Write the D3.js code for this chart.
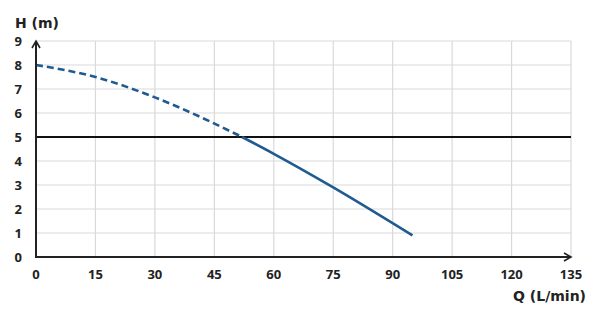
<!DOCTYPE html>
<html><head><meta charset="utf-8">
<script src="https://cdn.jsdelivr.net/npm/d3@7"></script>
<style>
body{margin:0;background:#fff;}
text{font-family:"Open Sans",sans-serif;font-weight:700;fill:#222;}
.ttl{font-family:"DejaVu Sans",sans-serif;}
</style></head>
<body><svg id="c" width="601" height="331"></svg>
<script>
const xTicks = [0,15,30,45,60,75,90,105,120,135];
const yTicks = [0,1,2,3,4,5,6,7,8,9];
const curveQ = [0,15,30,52,60,75,95];
const curveH = [8,7.5,6.65,5.0,4.3,2.9,0.9];
const refH = 5;
const dashUntil = 52;

const svg = d3.select("#c");
const x = d3.scaleLinear().domain([0,135]).range([36,571]);
const y = d3.scaleLinear().domain([0,9]).range([257,41]);

// grid
svg.append("g").selectAll("line").data(xTicks.slice(1)).join("line")
  .attr("x1",d=>x(d)).attr("x2",d=>x(d)).attr("y1",y(0)).attr("y2",y(9))
  .attr("stroke","#d9d9d9").attr("stroke-width",1.2);
svg.append("g").selectAll("line").data(yTicks.slice(1)).join("line")
  .attr("x1",x(0)).attr("x2",x(135)).attr("y1",d=>y(d)).attr("y2",d=>y(d))
  .attr("stroke","#d9d9d9").attr("stroke-width",1.2);

// reference line
svg.append("line").attr("x1",x(0)).attr("x2",x(135)).attr("y1",y(refH)).attr("y2",y(refH))
  .attr("stroke","#111").attr("stroke-width",2.2);

// curve
const pts = curveQ.map((q,i)=>[q,curveH[i]]);
const line = d3.line().x(d=>x(d[0])).y(d=>y(d[1])).curve(d3.curveMonotoneX);
const full = line(pts);
const dashed = pts.filter(d=>d[0]<=dashUntil);
const solid = pts.filter(d=>d[0]>=dashUntil);
svg.append("path").attr("d",line(dashed)).attr("fill","none")
  .attr("stroke","#1f5b92").attr("stroke-width",2.6).attr("stroke-dasharray","7,4");
svg.append("path").attr("d",line(solid)).attr("fill","none")
  .attr("stroke","#1f5b92").attr("stroke-width",2.6);

// axes
svg.append("line").attr("x1",x(0)).attr("x2",x(135)-1).attr("y1",y(0)).attr("y2",y(0))
  .attr("stroke","#222").attr("stroke-width",2);
svg.append("path").attr("d",`M${x(135)-7},${y(0)-4}L${x(135)},${y(0)}L${x(135)-7},${y(0)+4}`)
  .attr("fill","none").attr("stroke","#222").attr("stroke-width",1.6);
svg.append("line").attr("x1",x(0)).attr("x2",x(0)).attr("y1",y(0)+1).attr("y2",y(9)+1)
  .attr("stroke","#222").attr("stroke-width",2);
svg.append("path").attr("d",`M${x(0)-4},${y(9)+7}L${x(0)},${y(9)}L${x(0)+4},${y(9)+7}`)
  .attr("fill","none").attr("stroke","#222").attr("stroke-width",1.6);

// tick labels
svg.append("g").selectAll("text").data(xTicks).join("text")
  .attr("x",d=>x(d)).attr("y",279).attr("text-anchor","middle")
  .attr("font-size",13).text(d=>d);
svg.append("g").selectAll("text").data(yTicks).join("text")
  .attr("x",22).attr("y",d=>y(d)+4.5).attr("text-anchor","end")
  .attr("font-size",13).text(d=>d);

svg.append("text").attr("class","ttl").attr("x",15).attr("y",28).attr("font-size",14).text("H (m)");
svg.append("text").attr("class","ttl").attr("x",586).attr("y",301).attr("text-anchor","end").attr("font-size",14).text("Q (L/min)");
</script></body></html>
